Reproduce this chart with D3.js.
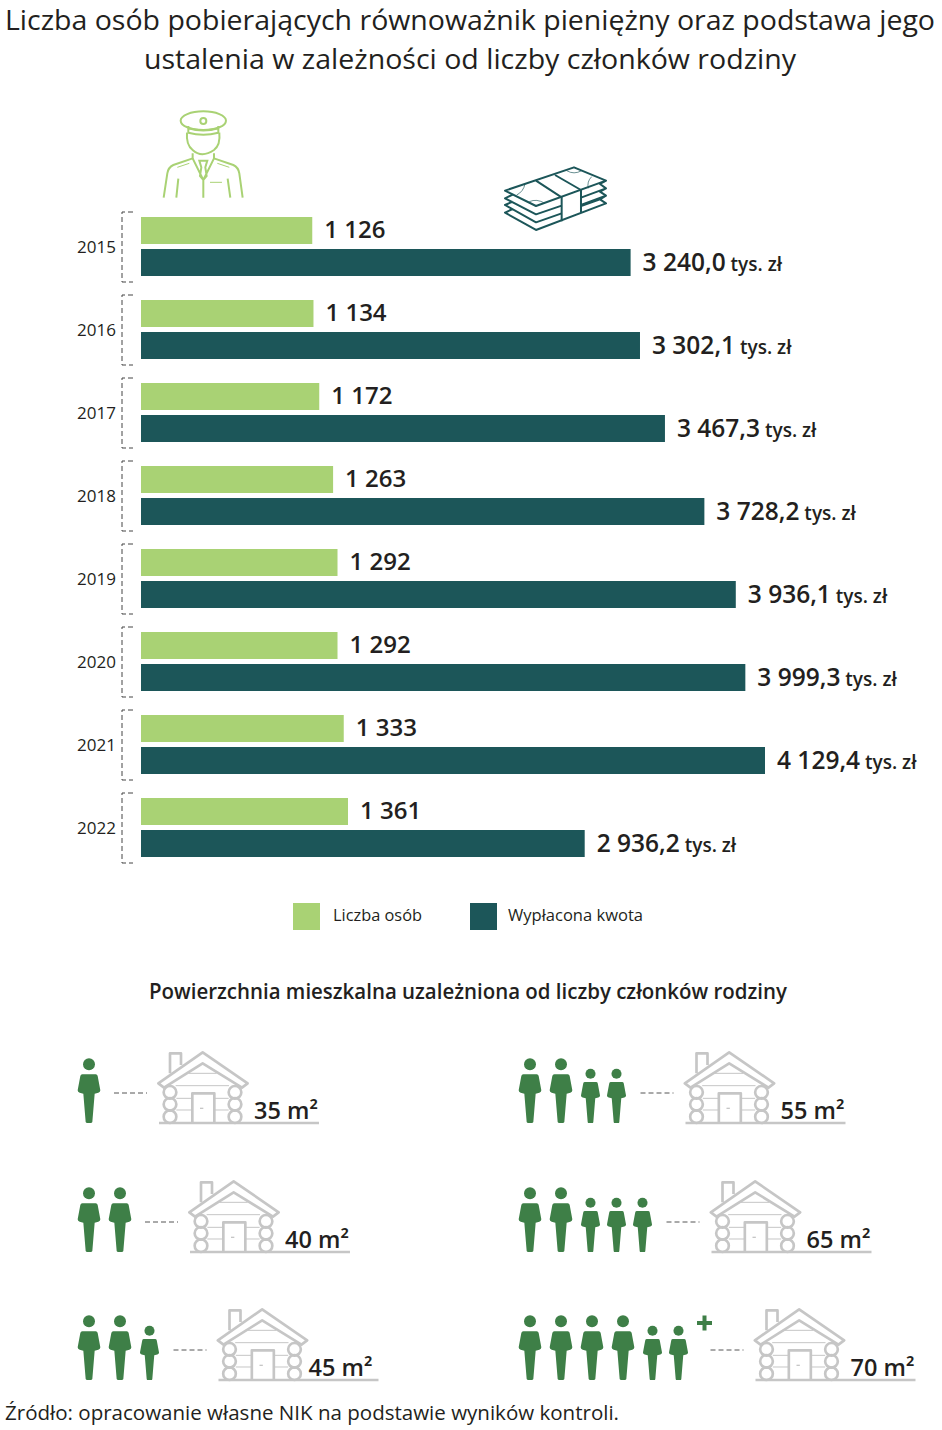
<!DOCTYPE html>
<html lang="pl">
<head>
    <meta charset="UTF-8">
    <script src="https://d3js.org/d3.v7.min.js"></script>
    <title>Równoważnik pieniężny</title>
    <style>
        html, body { margin: 0; padding: 0; background: #fff; }
        svg { display: block; }
        text { font-family: "Open Sans", sans-serif; fill: #231f20; }
    </style>
</head>
<body>
    <script>
        var years = [2015, 2016, 2017, 2018, 2019, 2020, 2021, 2022];
        var persons = [1126, 1134, 1172, 1263, 1292, 1292, 1333, 1361];
        var amounts = [3240.0, 3302.1, 3467.3, 3728.2, 3936.1, 3999.3, 4129.4, 2936.2];
        var legendLabels = ["Liczba osób", "Wypłacona kwota"];

        var adults = [1, 2, 2, 2, 2, 4];
        var children = [0, 0, 1, 2, 3, 2];
        var areas = [35, 40, 45, 55, 65, 70];
        var plusSign = [false, false, false, false, false, true];

        var LIGHT = "#a9d274", DARK = "#1c5659", GREEN = "#3e7f47", GREY = "#c6c6c6";
        var width = 942, height = 1430;

        var svg = d3.select("body").append("svg")
            .attr("width", width)
            .attr("height", height);

        var locale = d3.formatLocale({ decimal: ",", thousands: " ", grouping: [3], currency: ["", ""] });
        var fmtPersons = locale.format(",");
        var fmtAmount = locale.format(",.1f");

        // fits a text to the width it has in the reference
        function fit(sel, w) {
            return sel.attr("textLength", w).attr("lengthAdjust", "spacingAndGlyphs");
        }

        // title
        fit(svg.append("text").attr("x", 5).attr("y", 30).attr("font-size", 28), 930)
            .text("Liczba osób pobierających równoważnik pieniężny oraz podstawa jego");
        fit(svg.append("text").attr("x", 144).attr("y", 69).attr("font-size", 28), 652)
            .text("ustalenia w zależności od liczby członków rodziny");

        // bars
        var y = d3.scaleBand().domain(years).range([217, 217 + 83 * years.length]);
        var xPersons = d3.scaleLinear().domain([0, 1361]).range([141, 348]);
        var xAmount = d3.scaleLinear().domain([0, 4129.4]).range([141, 765]);

        var rows = svg.selectAll("g.row")
            .data(years)
            .enter()
            .append("g")
            .attr("class", "row")
            .attr("transform", function(d) { return "translate(0," + y(d) + ")"; });

        rows.append("rect")
            .attr("x", xPersons(0))
            .attr("width", function(d, i) { return xPersons(persons[i]) - xPersons(0); })
            .attr("height", 27)
            .attr("fill", LIGHT);

        rows.append("rect")
            .attr("x", xAmount(0))
            .attr("y", 32)
            .attr("width", function(d, i) { return xAmount(amounts[i]) - xAmount(0); })
            .attr("height", 27)
            .attr("fill", DARK);

        rows.append("text")
            .attr("x", function(d, i) { return xPersons(persons[i]) + 12; })
            .attr("y", 21)
            .attr("font-size", 24)
            .attr("font-weight", 600)
            .text(function(d, i) { return fmtPersons(persons[i]); });

        var amountText = rows.append("text")
            .attr("x", function(d, i) { return xAmount(amounts[i]) + 12; })
            .attr("y", 53.5)
            .attr("font-size", 24.5)
            .attr("font-weight", 600);
        amountText.append("tspan")
            .text(function(d, i) { return fmtAmount(amounts[i]); });
        amountText.append("tspan")
            .attr("font-size", 19)
            .text(" tys. zł");

        rows.append("text")
            .attr("x", 116)
            .attr("y", 35.5)
            .attr("text-anchor", "end")
            .attr("font-size", 17)
            .text(function(d) { return d; });

        rows.append("path")
            .attr("d", "M133,-5H122V65H133")
            .attr("fill", "none")
            .attr("stroke", "#444")
            .attr("stroke-dasharray", "5 3");

        // legend
        var legendX = [293, 470];
        var legendWidths = [89, 135];
        var legendColors = [LIGHT, DARK];
        legendLabels.forEach(function(label, i) {
            svg.append("rect")
                .attr("x", legendX[i]).attr("y", 903)
                .attr("width", 27).attr("height", 27)
                .attr("fill", legendColors[i]);
            fit(svg.append("text")
                .attr("x", legendX[i] + (i == 0 ? 40 : 38)).attr("y", 921)
                .attr("font-size", 17), legendWidths[i])
                .text(label);
        });

        // subtitle
        fit(svg.append("text").attr("x", 149).attr("y", 999)
            .attr("font-size", 21).attr("font-weight", 600), 638)
            .text("Powierzchnia mieszkalna uzależniona od liczby członków rodziny");

        // icons, drawn in the units of a 3x crop
        var officer = svg.append("g")
            .attr("transform", "translate(60,90) scale(0.3333)")
            .attr("fill", "none")
            .attr("stroke", LIGHT)
            .attr("stroke-width", 6);
        officer.append("ellipse").attr("cx", 430).attr("cy", 92).attr("rx", 68).attr("ry", 28);
        officer.append("circle").attr("cx", 430).attr("cy", 93).attr("r", 9);
        officer.append("path").attr("d", "M385,108V128Q430,140 475,128V108M385,115Q430,128 475,115");
        officer.append("path").attr("d", "M381,128Q378,165 398,180Q425,205 462,180Q482,165 478,128");
        officer.append("path").attr("d", "M398,190V205L340,225Q325,232 322,250L311,323M462,190V205L520,225Q535,232 538,250L548,323");
        officer.append("path").attr("d", "M398,205L430,270L462,205M430,270V323M418,212H442L436,232L440,258L430,270L420,258L424,232Z");
        officer.append("path").attr("stroke-width", 3).attr("d", "M352,232L388,220M472,220L508,232M450,277H486");
        officer.append("path").attr("d", "M355,266L349,323M503,266L511,323");

        var money = svg.append("g")
            .attr("transform", "translate(500,160) scale(0.3333)")
            .attr("fill", "none")
            .attr("stroke", DARK)
            .attr("stroke-width", 6)
            .attr("stroke-linejoin", "round");
        money.append("path").attr("d", "M15,92L222,22L318,62L108,138Z");
        money.append("path").attr("d", "M38,104L15,115L108,163L185,137M38,125L15,135L108,187L185,160M38,147L15,158L108,210L318,130L300,118L318,107L243,135M300,118L243,138");
        money.append("path").attr("d", "M318,62L300,72L318,85L243,113M318,85L300,95L318,107");
        money.append("path").attr("d", "M165,45L243,90V157M108,62L185,112V184");
        money.append("path").attr("stroke-width", 2).attr("d", "M75,72Q70,95 50,105M88,125Q110,115 135,130M200,32Q222,45 245,32M275,50Q260,65 265,85");

        function drawPerson(g, cx, base, scale) {
            var p = g.append("g")
                .attr("transform", "translate(" + cx + "," + base + ") scale(" + scale + ")")
                .attr("fill", GREEN);
            p.append("circle").attr("cy", -176).attr("r", 18);
            p.append("path").attr("d", "M-20,-146H20Q25,-146 26,-141L34,-98Q34,-92 28,-91L17,-88L10,-3Q9,0 5,0H-5Q-9,0 -10,-3L-17,-88L-28,-91Q-34,-92 -34,-98L-26,-141Q-25,-146 -20,-146Z");
        }

        function drawHouse(g, x, base, label, labelShift) {
            var h = g.append("g")
                .attr("transform", "translate(" + x + "," + base + ") scale(0.3333)")
                .attr("fill", "none")
                .attr("stroke", GREY)
                .attr("stroke-width", 8)
                .attr("stroke-linejoin", "round");
            h.append("path").attr("d", "M36,-149V-209H69V-174");
            h.append("path").attr("fill", "#fff").attr("d", "M134,-212L269,-119L252,-106L134,-179L18,-106L1,-119Z");
            [[36, -92], [36, -56], [36, -19], [231, -92], [231, -56], [231, -19]].forEach(function(c) {
                h.append("circle").attr("cx", c[0]).attr("cy", c[1]).attr("r", 19);
            });
            h.append("path").attr("d", "M103,0V-89H169V0");
            h.append("path").attr("stroke-width", 3).attr("d", "M55,-74H103M169,-74H212M55,-39H103M169,-39H212M53,-112H213M91,-149H176");
            h.append("path").attr("stroke-width", 4).attr("d", "M126,-44H136");
            h.append("path").attr("d", "M3,0H483");
            g.append("text")
                .attr("x", x + 96 + labelShift).attr("y", base - 4)
                .attr("font-size", 23.5)
                .attr("font-weight", 600)
                .text(label);
        }

        // family rows
        var colX = [78, 78, 78, 519, 519, 519];
        var rowBase = [1123, 1252, 1380, 1123, 1252, 1380];
        var labelShift = [0, 0, -5, 0, 0, 0];

        areas.forEach(function(area, i) {
            var g = svg.append("g");
            var cx = colX[i] + 11;
            var d;
            for (d = 0; d < adults[i]; d++) {
                if (d > 0) cx += 31;
                drawPerson(g, cx, rowBase[i], 0.3333);
            }
            for (d = 0; d < children[i]; d++) {
                cx += d == 0 ? 29.5 : 26;
                drawPerson(g, cx, rowBase[i], 0.28);
            }
            var right = cx + (children[i] > 0 ? 10 : 11);
            if (plusSign[i]) {
                right += 8;
                g.append("path")
                    .attr("d", "M697,1323H712M704.5,1315.5V1330.5")
                    .attr("stroke", GREEN)
                    .attr("stroke-width", 4)
                    .attr("fill", "none");
            }
            g.append("path")
                .attr("d", "M" + (right + 14) + "," + (rowBase[i] - 30) + "h33")
                .attr("stroke", "#555")
                .attr("stroke-dasharray", "5 3");
            drawHouse(g, right + 58, rowBase[i], area + " m²", labelShift[i]);
        });

        // source
        fit(svg.append("text").attr("x", 5).attr("y", 1420).attr("font-size", 20), 614)
            .text("Źródło: opracowanie własne NIK na podstawie wyników kontroli.");
    </script>
</body>
</html>
